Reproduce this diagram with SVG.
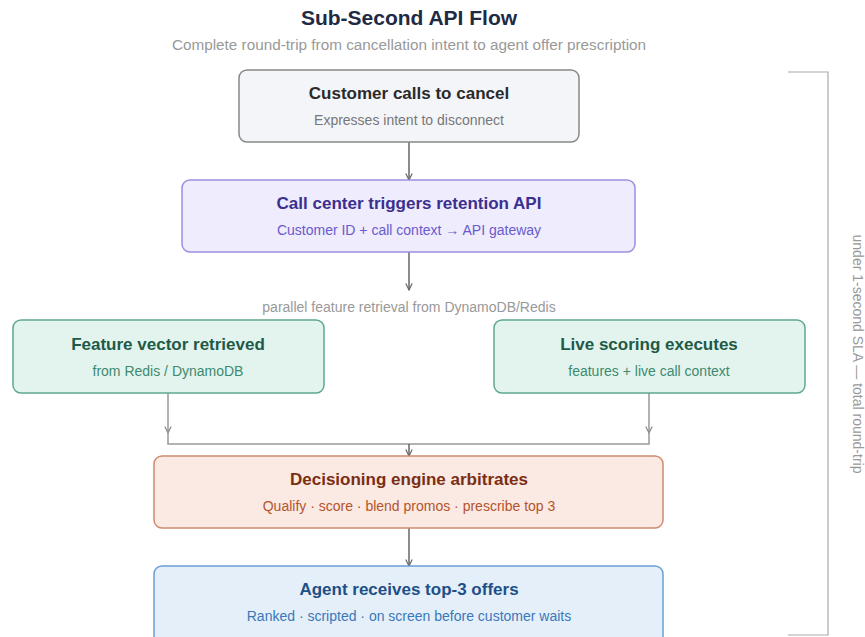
<svg xmlns="http://www.w3.org/2000/svg" width="865" height="637" viewBox="0 0 865 637">
<style>
text{font-family:"Liberation Sans",Arial,sans-serif;text-anchor:middle}
.t{font-size:17px;font-weight:bold}
.s{font-size:14px}
.c{fill:none;stroke:#666;stroke-width:1.5}
.c2{fill:none;stroke:#999;stroke-width:1.5}
</style>
<defs>
<marker id="a" viewBox="0 0 10 10" refX="9" refY="5" markerWidth="8" markerHeight="8" orient="auto" markerUnits="userSpaceOnUse">
<path d="M1,1 L9,5 L1,9" fill="none" stroke="#666" stroke-width="1.5"/>
</marker>
<marker id="b" viewBox="0 0 10 10" refX="9" refY="5" markerWidth="8" markerHeight="8" orient="auto" markerUnits="userSpaceOnUse">
<path d="M1,1 L9,5 L1,9" fill="none" stroke="#888" stroke-width="1.5"/>
</marker>
</defs>
<rect width="865" height="637" fill="#fff"/>
<text x="409" y="25" style="font-size:21px;font-weight:bold" fill="#1f2a44">Sub-Second API Flow</text>
<text x="409" y="50" style="font-size:15.3px" fill="#999">Complete round-trip from cancellation intent to agent offer prescription</text>

<g id="connectors">
<line class="c" x1="409" y1="142" x2="409" y2="180" marker-end="url(#a)"/>
<line class="c" x1="409" y1="252" x2="409" y2="290" marker-end="url(#a)"/>
<line class="c2" x1="168" y1="393" x2="168" y2="433" marker-end="url(#b)"/>
<line class="c2" x1="649" y1="393" x2="649" y2="433" marker-end="url(#b)"/>
<polyline class="c2" points="168,432 168,444 649,444 649,432"/>
<line class="c" x1="409" y1="444" x2="409" y2="456" marker-end="url(#a)"/>
<line class="c" x1="409" y1="528" x2="409" y2="566" marker-end="url(#a)"/>
</g>
<text x="409" y="312" style="font-size:14px" fill="#999">parallel feature retrieval from DynamoDB/Redis</text>

<g id="n1">
<rect x="239" y="70" width="340" height="72" rx="8" fill="#f4f5f9" stroke="#888" stroke-width="1.5"/>
<text class="t" x="409" y="99" fill="#2a2a2a">Customer calls to cancel</text>
<text class="s" x="409" y="125" fill="#777">Expresses intent to disconnect</text>
</g>
<g id="n2">
<rect x="182" y="180" width="453" height="72" rx="8" fill="#eeecfd" stroke="#9d8fe0" stroke-width="1.5"/>
<text class="t" x="409" y="209" fill="#3b2f8f">Call center triggers retention API</text>
<text class="s" x="409" y="235" fill="#6a5acd">Customer ID + call context → API gateway</text>
</g>
<g id="n3">
<rect x="13" y="320" width="311" height="73" rx="8" fill="#e3f4ee" stroke="#5fa88d" stroke-width="1.5"/>
<text class="t" x="168" y="350" fill="#1e5a47">Feature vector retrieved</text>
<text class="s" x="168" y="376" fill="#3e8a6e">from Redis / DynamoDB</text>
</g>
<g id="n4">
<rect x="494" y="320" width="311" height="73" rx="8" fill="#e3f4ee" stroke="#5fa88d" stroke-width="1.5"/>
<text class="t" x="649" y="350" fill="#1e5a47">Live scoring executes</text>
<text class="s" x="649" y="376" fill="#3e8a6e">features + live call context</text>
</g>
<g id="n5">
<rect x="154" y="456" width="509" height="72" rx="8" fill="#fbe9e4" stroke="#d08a70" stroke-width="1.5"/>
<text class="t" x="409" y="485" fill="#7a2e12">Decisioning engine arbitrates</text>
<text class="s" x="409" y="511" fill="#b5542a">Qualify · score · blend promos · prescribe top 3</text>
</g>
<g id="n6">
<rect x="154" y="566" width="509" height="80" rx="8" fill="#e4effa" stroke="#6a9fd4" stroke-width="1.5"/>
<text class="t" x="409" y="595" fill="#1e4f86">Agent receives top-3 offers</text>
<text class="s" x="409" y="621" fill="#3a78b8">Ranked · scripted · on screen before customer waits</text>
</g>

<g id="bracket">
<polyline points="788,72 828,72 828,635 788,635" fill="none" stroke="#aaa" stroke-width="1.2"/>
<text x="0" y="0" transform="translate(853,354) rotate(90)" style="font-size:14px" fill="#999">under 1-second SLA — total round-trip</text>
</g>
</svg>
